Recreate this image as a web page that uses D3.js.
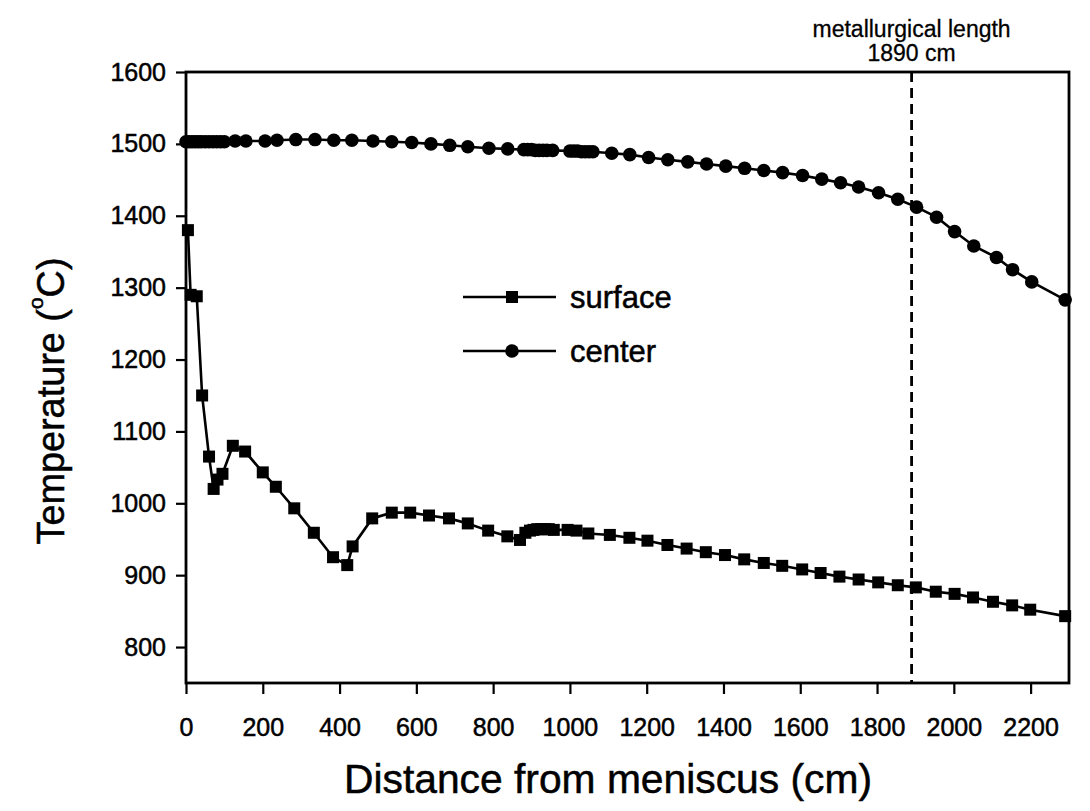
<!DOCTYPE html>
<html>
<head>
<meta charset="utf-8">
<script src="https://cdn.jsdelivr.net/npm/d3@7"></script>
<style>
  body { margin: 0; background: #fff; }
  text { font-family: "Liberation Sans", Arial, sans-serif; fill: #000; stroke: #000; stroke-width: 0.5px; }
</style>
</head>
<body>
<script>
// data (distance in cm, temperature in deg C)
var surfaceX = [5, 12, 28, 42, 60, 72, 82, 95, 122, 154, 200, 234, 282, 333, 383, 420, 434,
  485, 536, 584, 633, 685, 734, 787, 837, 870, 884, 896, 905, 915, 925, 935, 945, 958,
  994, 1017, 1048, 1104, 1155, 1202, 1254, 1304, 1354, 1404, 1454, 1505, 1553, 1605,
  1653, 1702, 1752, 1803, 1854, 1901, 1953, 2002, 2050, 2102, 2152, 2199, 2290];
var surfaceT = [1380, 1290, 1288, 1150, 1065, 1020, 1033, 1041, 1080, 1072, 1043, 1023, 993, 959, 925, 914, 940,
  979, 987, 987, 983, 979, 972, 962, 954, 949, 959, 962, 963, 964, 964, 964, 964, 963,
  963, 962, 958, 956, 952, 948, 942, 937, 932, 928, 922, 917, 913, 908,
  903, 898, 894, 890, 886, 883, 877, 874, 869, 863, 858, 852, 843];

var centerX = [0, 8, 16, 24, 32, 40, 50, 60, 70, 80, 90, 100, 128, 156, 206, 237, 286, 336, 385,
  432, 487, 536, 588, 638, 687, 734, 789, 838, 880, 890, 900, 910, 920, 930, 940, 955,
  1000, 1010, 1020, 1030, 1040, 1050, 1060, 1109, 1156, 1205, 1255, 1307, 1356, 1406,
  1455, 1505, 1554, 1606, 1656, 1705, 1752, 1804, 1854, 1903, 1955, 2002, 2052, 2111,
  2153, 2203, 2290];
var centerT = [1503, 1503, 1503, 1503, 1503, 1503, 1503, 1503, 1503, 1503, 1503, 1503, 1504, 1504, 1504, 1505, 1506, 1506, 1505,
  1505, 1504, 1503, 1502, 1500, 1498, 1496, 1494, 1493, 1492, 1492, 1492, 1491, 1491, 1491, 1491, 1491,
  1490, 1490, 1490, 1489, 1489, 1489, 1489, 1487, 1485, 1481, 1478, 1475, 1472, 1469,
  1466, 1463, 1460, 1456, 1451, 1446, 1440, 1432, 1423, 1412, 1398, 1378, 1358, 1342,
  1325, 1308, 1283];

var xTicks = [0, 200, 400, 600, 800, 1000, 1200, 1400, 1600, 1800, 2000, 2200];
var yTicks = [800, 900, 1000, 1100, 1200, 1300, 1400, 1500, 1600];
var metLength = 1890;

// plot box (note: "top" is taken by window.top, so use pTop etc.)
var w = 1090, h = 811;
var pLeft = 186, pRight = 1069, pTop = 72, pBottom = 683;

var svg = d3.select("body").append("svg")
    .attr("width", w)
    .attr("height", h);

var x = d3.scaleLinear().domain([0, 2300]).range([pLeft, pRight]);
var y = d3.scaleLinear().domain([750, 1600]).range([pBottom, pTop]);

// axes
var xAxis = svg.append("g")
    .attr("transform", "translate(0," + pBottom + ")")
    .call(d3.axisBottom(x).tickValues(xTicks).tickFormat(d3.format("d"))
      .tickSize(11).tickSizeOuter(0).tickPadding(24));
var yAxis = svg.append("g")
    .attr("transform", "translate(" + pLeft + ",0)")
    .call(d3.axisLeft(y).tickValues(yTicks).tickFormat(d3.format("d"))
      .tickSize(10).tickSizeOuter(0).tickPadding(10));

[xAxis, yAxis].forEach(function(g) {
  g.select(".domain").remove();
  g.selectAll(".tick line").attr("stroke", "#000").attr("stroke-width", 2.2);
  g.selectAll(".tick text").attr("font-size", 25).attr("fill", "#000")
    .style("font-family", "'Liberation Sans', Arial, sans-serif");
});

// frame
svg.append("rect")
    .attr("x", pLeft).attr("y", pTop)
    .attr("width", pRight - pLeft).attr("height", pBottom - pTop)
    .attr("fill", "none").attr("stroke", "#000").attr("stroke-width", 2.8);

// metallurgical length marker
svg.append("line")
    .attr("x1", x(metLength)).attr("x2", x(metLength))
    .attr("y1", pTop).attr("y2", pBottom)
    .attr("stroke", "#000").attr("stroke-width", 2.8)
    .attr("stroke-dasharray", "10,6");
svg.append("text")
    .attr("x", x(metLength)).attr("y", 37)
    .attr("text-anchor", "middle").attr("font-size", 23)
    .style("stroke-width", "0.3px")
    .text("metallurgical length");
svg.append("text")
    .attr("x", x(metLength)).attr("y", 61)
    .attr("text-anchor", "middle").attr("font-size", 23)
    .style("stroke-width", "0.3px")
    .text("1890 cm");

var line = d3.line()
    .x(function(d) { return x(d[0]); })
    .y(function(d) { return y(d[1]); });

var surface = surfaceX.map(function(v, i) { return [v, surfaceT[i]]; });
var center = centerX.map(function(v, i) { return [v, centerT[i]]; });

svg.append("path").datum(surface)
    .attr("d", line).attr("fill", "none").attr("stroke", "#000").attr("stroke-width", 2.6);
svg.append("path").datum(center)
    .attr("d", line).attr("fill", "none").attr("stroke", "#000").attr("stroke-width", 2.6);

var sq = 12;
svg.append("g").selectAll("rect")
    .data(surface)
    .enter().append("rect")
    .attr("x", function(d) { return x(d[0]) - sq / 2; })
    .attr("y", function(d) { return y(d[1]) - sq / 2; })
    .attr("width", sq).attr("height", sq)
    .attr("fill", "#000");

svg.append("g").selectAll("circle")
    .data(center)
    .enter().append("circle")
    .attr("cx", function(d) { return x(d[0]); })
    .attr("cy", function(d) { return y(d[1]); })
    .attr("r", 6.8)
    .attr("fill", "#000");

// legend
var legend = svg.append("g");
legend.append("line").attr("x1", 463).attr("x2", 556).attr("y1", 297).attr("y2", 297)
    .attr("stroke", "#000").attr("stroke-width", 2.6);
legend.append("rect").attr("x", 512 - sq / 2).attr("y", 297 - sq / 2)
    .attr("width", sq).attr("height", sq).attr("fill", "#000");
legend.append("text").attr("x", 570).attr("y", 308).attr("font-size", 31).text("surface");
legend.append("line").attr("x1", 463).attr("x2", 556).attr("y1", 351).attr("y2", 351)
    .attr("stroke", "#000").attr("stroke-width", 2.6);
legend.append("circle").attr("cx", 512).attr("cy", 351).attr("r", 6.8).attr("fill", "#000");
legend.append("text").attr("x", 570).attr("y", 362).attr("font-size", 31).text("center");

// axis titles
svg.append("text")
    .attr("x", 608).attr("y", 793)
    .attr("text-anchor", "middle").attr("font-size", 40)
    .attr("textLength", 528).attr("lengthAdjust", "spacingAndGlyphs")
    .text("Distance from meniscus (cm)");

var yt = svg.append("text")
    .attr("transform", "translate(64,401) rotate(-90)")
    .attr("text-anchor", "middle").attr("font-size", 38)
    .attr("textLength", 287).attr("lengthAdjust", "spacingAndGlyphs");
yt.append("tspan").text("Temperature (");
yt.append("tspan").attr("font-size", 21).attr("dy", -21).text("o");
yt.append("tspan").attr("dy", 21).text("C)");
</script>
</body>
</html>
